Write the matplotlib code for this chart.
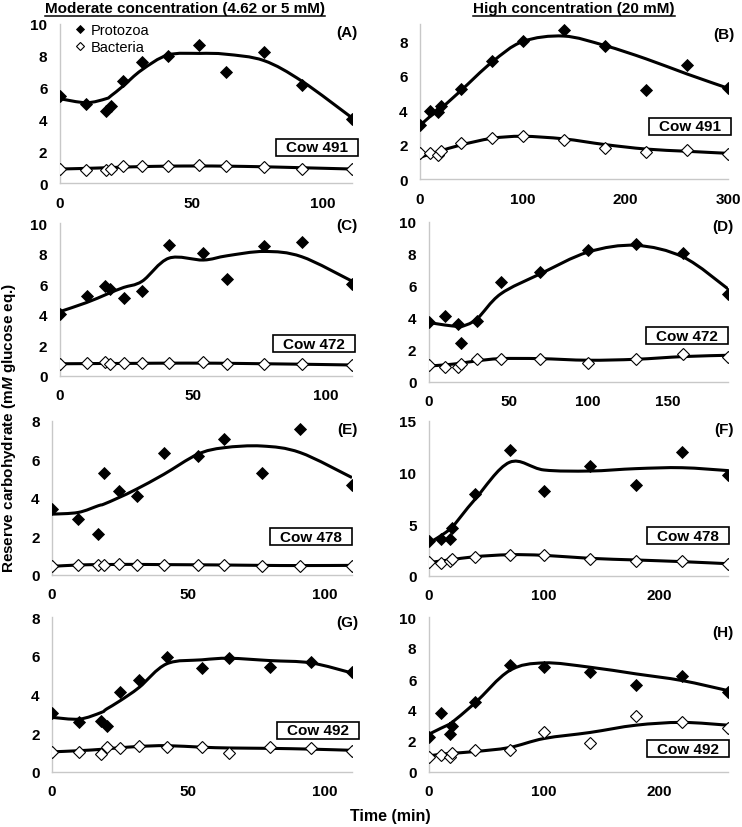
import numpy as np
import matplotlib.pyplot as plt
from matplotlib.path import Path
from matplotlib.patches import PathPatch, Rectangle
from matplotlib.lines import Line2D

plt.rcParams['font.family'] = ['Liberation Sans', 'DejaVu Sans']
plt.rcParams['mathtext.fontset'] = 'custom'
plt.rcParams['mathtext.it'] = 'Liberation Sans:italic:bold'
plt.rcParams['mathtext.rm'] = 'Liberation Sans:bold'

# --- data ---
# (A) moderate, cow 491
a_time = [0, 10, 17.5, 19.5, 24, 31, 41, 53, 63, 77.5, 92, 111]
a_proto = [5.47, 4.98, 4.50, 4.84, 6.41, 7.60, 7.96, 8.69, 6.97, 8.27, 6.18, 4.0]
a_bact = [0.86, 0.80, 0.84, 0.90, 1.05, 1.07, 1.10, 1.13, 1.07, 1.0, 0.90, 0.86]
a_proto_fit = [5.3, 5.05, 5.3, 5.5, 6.1, 7.1, 8.05, 8.15, 8.1, 7.7, 6.4, 4.1]
a_bact_fit = [0.88, 0.92, 0.96, 0.97, 1.0, 1.03, 1.06, 1.07, 1.06, 1.02, 0.96, 0.88]

# (B) high, cow 491
b_time = [0, 10, 18, 20, 40, 70, 100, 140, 180, 220, 260, 300]
b_proto = [3.16, 3.95, 3.88, 4.26, 5.23, 6.84, 8.04, 8.68, 7.71, 5.17, 6.63, 5.29]
b_bact = [1.51, 1.51, 1.40, 1.65, 2.07, 2.36, 2.48, 2.27, 1.80, 1.59, 1.71, 1.45]
b_proto_fit = [3.1, 3.64, 3.97, 4.07, 5.14, 6.78, 7.98, 8.3, 7.75, 6.98, 6.1, 5.27]
b_bact_fit = [1.26, 1.45, 1.59, 1.63, 1.98, 2.36, 2.48, 2.33, 2.0, 1.74, 1.61, 1.49]

# (C) moderate, cow 472
c_time = [0, 10, 17, 19, 24, 31, 41, 54, 63, 77, 91, 110]
c_proto = [4.08, 5.24, 5.9, 5.68, 5.13, 5.57, 8.58, 8.03, 6.33, 8.52, 8.73, 6.0]
c_bact = [0.76, 0.87, 0.94, 0.81, 0.83, 0.83, 0.87, 0.92, 0.76, 0.81, 0.81, 0.70]
c_proto_fit = [4.21, 4.8, 5.3, 5.45, 5.79, 6.2, 7.7, 7.58, 7.86, 8.14, 7.8, 6.2]
c_bact_fit = [0.8, 0.81, 0.82, 0.82, 0.82, 0.83, 0.84, 0.84, 0.83, 0.80, 0.77, 0.72]

# (D) high, cow 472
d_time = [0, 10, 18, 20, 30, 45, 70, 100, 130, 160, 188]
d_proto = [3.77, 4.14, 3.62, 2.43, 3.83, 6.23, 6.86, 8.22, 8.6, 8.05, 5.5]
d_bact = [1.05, 0.94, 0.96, 1.15, 1.42, 1.42, 1.42, 1.21, 1.42, 1.74, 1.59]
d_proto_fit = [3.72, 3.56, 3.47, 3.45, 3.93, 5.5, 6.76, 8.12, 8.54, 7.8, 5.82]
d_bact_fit = [1.0, 1.07, 1.15, 1.17, 1.32, 1.46, 1.46, 1.36, 1.42, 1.59, 1.67]

# (E) moderate, cow 478
e_time = [0, 9.6, 17, 19, 24.5, 31, 41, 53.4, 63, 77, 91, 110]
e_proto = [3.42, 2.90, 2.12, 5.28, 4.37, 4.08, 6.32, 6.18, 7.08, 5.32, 7.56, 4.66]
e_bact = [0.45, 0.54, 0.54, 0.54, 0.57, 0.54, 0.54, 0.54, 0.52, 0.45, 0.48, 0.48]
e_proto_fit = [3.16, 3.25, 3.6, 3.68, 4.02, 4.46, 5.23, 6.27, 6.61, 6.7, 6.36, 5.06]
e_bact_fit = [0.45, 0.52, 0.54, 0.54, 0.55, 0.55, 0.54, 0.53, 0.52, 0.5, 0.49, 0.5]

# (F) high, cow 478
f_time = [0, 10, 18, 20, 40, 70, 100, 140, 180, 220, 260]
f_proto = [3.4, 3.55, 3.61, 4.6, 7.9, 12.16, 8.23, 10.6, 8.77, 12.0, 9.74]
f_bact = [1.35, 1.29, 1.45, 1.68, 1.87, 2.03, 2.0, 1.68, 1.45, 1.45, 1.13]
f_proto_fit = [3.2, 3.87, 4.5, 4.68, 7.42, 11.0, 10.26, 10.16, 10.39, 10.48, 10.2]
f_bact_fit = [1.29, 1.45, 1.55, 1.58, 1.87, 2.06, 2.0, 1.71, 1.55, 1.39, 1.19]

# (G) moderate, cow 492
g_time = [0, 10, 18, 20, 25, 32, 42, 55, 65, 80, 95, 110]
g_proto = [3.04, 2.56, 2.61, 2.38, 4.15, 4.75, 5.92, 5.35, 5.87, 5.44, 5.66, 5.18]
g_bact = [1.04, 1.04, 0.92, 1.31, 1.23, 1.35, 1.31, 1.31, 1.0, 1.29, 1.23, 1.09]
g_proto_fit = [2.82, 2.73, 3.07, 3.25, 3.68, 4.37, 5.58, 5.79, 5.87, 5.75, 5.63, 5.11]
g_bact_fit = [1.04, 1.1, 1.17, 1.2, 1.25, 1.32, 1.36, 1.28, 1.24, 1.22, 1.18, 1.12]

# (H) high, cow 492
h_time = [0, 10, 18, 20, 40, 70, 100, 140, 180, 220, 260]
h_proto = [2.29, 3.8, 2.44, 2.94, 4.54, 6.91, 6.76, 6.44, 5.62, 6.18, 5.18]
h_bact = [0.99, 1.10, 0.99, 1.21, 1.43, 1.43, 2.61, 1.86, 3.59, 3.24, 2.87]
h_proto_fit = [2.44, 2.81, 3.09, 3.2, 4.45, 6.54, 7.04, 6.76, 6.33, 5.9, 5.25]
h_bact_fit = [1.04, 1.14, 1.19, 1.21, 1.32, 1.58, 2.16, 2.55, 3.02, 3.2, 3.02]

letters = ['(A)', '(B)', '(C)', '(D)', '(E)', '(F)', '(G)', '(H)']
cows = ['Cow 491', 'Cow 491', 'Cow 472', 'Cow 472', 'Cow 478', 'Cow 478', 'Cow 492', 'Cow 492']
ymax = [10, 9, 10, 10, 8, 15, 8, 10]
ystep = [2, 2, 2, 2, 2, 5, 2, 2]
xticks = [[0, 50, 100], [0, 100, 200, 300], [0, 50, 100], [0, 50, 100, 150],
          [0, 50, 100], [0, 100, 200], [0, 50, 100], [0, 100, 200]]

panels = [
    (a_time, a_proto, a_bact, a_proto_fit, a_bact_fit),
    (b_time, b_proto, b_bact, b_proto_fit, b_bact_fit),
    (c_time, c_proto, c_bact, c_proto_fit, c_bact_fit),
    (d_time, d_proto, d_bact, d_proto_fit, d_bact_fit),
    (e_time, e_proto, e_bact, e_proto_fit, e_bact_fit),
    (f_time, f_proto, f_bact, f_proto_fit, f_bact_fit),
    (g_time, g_proto, g_bact, g_proto_fit, g_bact_fit),
    (h_time, h_proto, h_bact, h_proto_fit, h_bact_fit),
]

# layout in pixels: left, right, top, bottom of each plot area
W, H = 742, 828
boxes_px = [(60, 352, 25, 184), (420, 728, 25, 180),
            (60, 352, 224, 377), (429, 728, 223, 383),
            (52, 352, 422, 576), (429, 728, 422, 577),
            (52, 352, 618, 773), (429, 728, 618, 773)]
letter_y = [0.95, 0.935, 0.99, 0.975, 0.95, 0.95, 0.97, 0.90]
cow_pos = [(0.88, 0.226), (0.877, 0.34), (0.871, 0.21), (0.863, 0.29),
           (0.863, 0.25), (0.866, 0.26), (0.887, 0.27), (0.866, 0.15)]


def smooth_path(x, y):
    # excel-like smoothed line (catmull-rom bezier)
    p = np.column_stack([x, y]).astype(float)
    n = len(p)
    verts = [p[0]]
    codes = [Path.MOVETO]
    for i in range(n - 1):
        p0 = p[i - 1] if i > 0 else p[i]
        p3 = p[i + 2] if i + 2 < n else p[i + 1]
        verts += [p[i] + (p[i + 1] - p0) / 6, p[i + 1] - (p3 - p[i]) / 6, p[i + 1]]
        codes += [Path.CURVE4] * 3
    return Path(verts, codes)


fig = plt.figure(figsize=(W / 100, H / 100), dpi=100)

for k, (t, pr, ba, prf, baf) in enumerate(panels):
    l, r, tp, bt = boxes_px[k]
    ax = fig.add_axes([l / W, 1 - bt / H, (r - l) / W, (bt - tp) / H])
    ax.add_patch(PathPatch(smooth_path(t, prf), fill=False, lw=2.2, ec='black', zorder=2))
    ax.add_patch(PathPatch(smooth_path(t, baf), fill=False, lw=2.2, ec='black', zorder=2))
    ax.plot(t, pr, 'D', ms=6.3, color='black', mec='black', mew=0.6, label='Protozoa', zorder=3)
    ax.plot(t, ba, 'D', ms=6.3, mfc='white', mec='black', mew=0.8, label='Bacteria', zorder=3)
    ax.set_xlim(0, t[-1])
    ax.set_ylim(0, ymax[k])
    ax.set_yticks(np.arange(0, ymax[k] + 0.1, ystep[k]))
    ax.set_xticks(xticks[k])
    for s in ['top', 'right']:
        ax.spines[s].set_visible(False)
    for s in ['left', 'bottom']:
        ax.spines[s].set_color('#c8c8c8')
        ax.spines[s].set_linewidth(1)
    ax.tick_params(length=0, labelsize=11)
    ax.tick_params(axis='x', pad=9)
    ax.tick_params(axis='y', pad=9)
    for lab in ax.get_xticklabels() + ax.get_yticklabels():
        lab.set_fontweight('bold')
    ax.text(1.02, letter_y[k], letters[k], transform=ax.transAxes, ha='right',
            va='center', fontsize=11, fontweight='bold')
    cx, cy = cow_pos[k]
    bw, bh = 82 / (r - l), 17 / (bt - tp)
    ax.add_patch(Rectangle((cx - bw / 2, cy - bh / 2), bw, bh, transform=ax.transAxes,
                           fc='white', ec='black', lw=1.2, clip_on=False, zorder=4))
    ax.text(cx, cy, cows[k], transform=ax.transAxes, ha='center', va='center',
            fontsize=11, fontweight='bold', zorder=5)
    if k == 0:
        ax.legend(loc='upper left', bbox_to_anchor=(0.03, 1.04), frameon=False,
                  fontsize=10.5, handlelength=0.8, handletextpad=0.3,
                  labelspacing=0.2, markerscale=0.7, borderaxespad=0)

t1 = fig.text(185 / W, 1 - 9 / H, 'Moderate concentration (4.62 or 5 mM)',
              ha='center', va='center', fontsize=11, fontweight='bold')
t2 = fig.text(574 / W, 1 - 9 / H, 'High concentration (20 mM)',
              ha='center', va='center', fontsize=11, fontweight='bold')
fig.text(9 / W, 1 - 428 / H, 'Reserve carbohydrate (m$M$ glucose eq.)', rotation=90,
         ha='center', va='center', fontsize=11, fontweight='bold')
fig.text(390 / W, 1 - 817 / H, 'Time (min)', ha='center', va='center',
         fontsize=11.5, fontweight='bold')

# underline the two column titles
fig.canvas.draw()
for tt in (t1, t2):
    bb = tt.get_window_extent()
    yl = (bb.y0 - 0.5) / H
    fig.add_artist(Line2D([bb.x0 / W, bb.x1 / W], [yl, yl], color='black', lw=1.1,
                          transform=fig.transFigure))

fig.savefig('out.png', dpi=100)
